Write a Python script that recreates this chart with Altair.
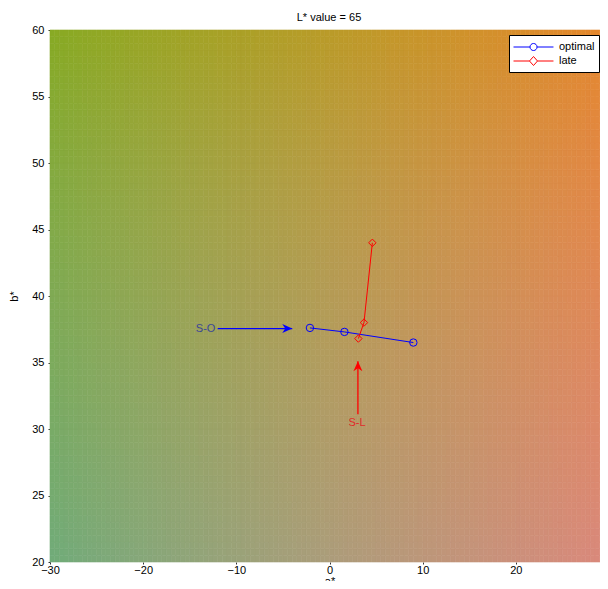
import numpy as np
import pandas as pd
import altair as alt

# ---------------- values ----------------
L_VALUE = 65
A_RANGE = [-30, 30]
B_RANGE = [20, 60]
GRID_STEP = 0.5

series_names = ["optimal", "late"]
series_colors = ["#0000ff", "#ff0000"]

optimal_a = [-2.1, 1.6, 9.0]
optimal_b = [37.6, 37.3, 36.5]
late_a = [3.1, 3.7, 4.6]
late_b = [36.8, 38.0, 44.0]

arrow_labels = ["S-O", "S-L"]
arrow_tail_a = [-12.0, 3.05]
arrow_tail_b = [37.55, 31.1]
arrow_tip_a = [-4.0, 3.05]
arrow_tip_b = [37.55, 35.1]
label_a = [-13.3, 2.95]
label_b = [37.55, 30.45]

x_ticks = [-30, -20, -10, 0, 10, 20, 30]
y_ticks = [20, 25, 30, 35, 40, 45, 50, 55, 60]

FONT = "Liberation Sans"


# ---------------- CIE L*a*b* (D65) -> sRGB for the background ----------------
def lab_to_hex(L, a, b):
    fy = (L + 16.0) / 116.0
    fx = fy + a / 500.0
    fz = fy - b / 200.0

    def finv(t):
        return np.where(t ** 3 > 0.008856, t ** 3, (t - 16.0 / 116.0) / 7.787)

    X = 0.95047 * finv(fx)
    Y = 1.00000 * finv(np.full_like(fx, fy))
    Z = 1.08883 * finv(fz)
    r = 3.2406 * X - 1.5372 * Y - 0.4986 * Z
    g = -0.9689 * X + 1.8758 * Y + 0.0415 * Z
    bl = 0.0557 * X - 0.2040 * Y + 1.0570 * Z
    out = []
    for c in (r, g, bl):
        c = np.clip(c, 0, 1)
        c = np.where(c <= 0.0031308, 12.92 * c, 1.055 * np.power(c, 1 / 2.4) - 0.055)
        out.append(np.round(np.clip(c, 0, 1) * 255).astype(int))
    return ["#%02x%02x%02x" % (R, G, B) for R, G, B in zip(*out)]


a_lo = np.arange(A_RANGE[0], A_RANGE[1], GRID_STEP)
b_lo = np.arange(B_RANGE[0], B_RANGE[1], GRID_STEP)
AA, BB = np.meshgrid(a_lo, b_lo)
AA = AA.ravel()
BB = BB.ravel()
bg = pd.DataFrame({
    "a0": AA, "a1": AA + GRID_STEP,
    "b0": BB, "b1": BB + GRID_STEP,
})
bg["hex"] = lab_to_hex(L_VALUE, AA + GRID_STEP / 2, BB + GRID_STEP / 2)

pts = pd.DataFrame({
    "series": ["optimal"] * len(optimal_a) + ["late"] * len(late_a),
    "a": optimal_a + late_a,
    "b": optimal_b + late_b,
    "idx": list(range(len(optimal_a))) + list(range(len(late_a))),
})

arrows = pd.DataFrame({
    "name": arrow_labels,
    "ta": arrow_tail_a, "tb": arrow_tail_b,
    "ha": arrow_tip_a, "hb": arrow_tip_b,
    "la": label_a, "lb": label_b,
})

# the axes box runs past the right edge of the window, as in the reference
VIEW_W, AXES_W, VIEW_H = 550, 559, 532
xscale = alt.Scale(domain=A_RANGE, nice=False, zero=False, range=[0, AXES_W])
yscale = alt.Scale(domain=B_RANGE, nice=False, zero=False)

xaxis = alt.Axis(values=x_ticks, title="a*", grid=False, domain=False,
                 tickSize=2, tickColor="#333333", labelPadding=0, labelFlush=False,
                 labelFontSize=11, labelFont=FONT, labelColor="black",
                 titleFont=FONT, titleFontSize=11, titleFontWeight="normal",
                 titleColor="black", titlePadding=0)
yaxis = alt.Axis(values=y_ticks, title="b*", grid=False, domain=False,
                 tickSize=2, tickColor="#333333", labelPadding=4, labelFlush=False,
                 labelFontSize=11, labelFont=FONT, labelColor="black",
                 titleFont=FONT, titleFontSize=11, titleFontWeight="normal",
                 titleColor="black", titlePadding=12)

background = alt.Chart(bg).mark_rect(strokeWidth=0.6).encode(
    x=alt.X("a0:Q", scale=xscale, axis=xaxis),
    x2="a1:Q",
    y=alt.Y("b0:Q", scale=yscale, axis=yaxis),
    y2="b1:Q",
    fill=alt.Fill("hex:N", scale=None),
    stroke=alt.Stroke("hex:N", scale=None),
)

series_scale = alt.Scale(domain=series_names, range=series_colors)

lines = alt.Chart(pts).mark_line(strokeWidth=1).encode(
    x="a:Q", y="b:Q",
    color=alt.Color("series:N", scale=series_scale, legend=None),
    order="idx:Q",
)

markers = alt.Chart(pts).mark_point(filled=False, size=55, strokeWidth=1, opacity=1).encode(
    x="a:Q", y="b:Q",
    color=alt.Color("series:N", scale=series_scale, legend=None),
    shape=alt.Shape("series:N", scale=alt.Scale(domain=series_names, range=["circle", "diamond"]),
                    legend=None),
)

# legend glyphs: a 40px line with the marker in its middle (unit = 7.5px)
circle_line = ("M-1,0L1.2,0M2.14,0L4.33,0"
               "M2.14,0A0.47,0.47,0,1,1,1.2,0A0.47,0.47,0,1,1,2.14,0")
diamond_line = "M-1,0L1.13,0M2.2,0L4.33,0M1.67,-0.6L2.2,0L1.67,0.6L1.13,0Z"

legend_layer = alt.Chart(pts).mark_point(filled=False, opacity=0).encode(
    x="a:Q", y="b:Q",
    color=alt.Color("series:N", scale=series_scale,
                    legend=alt.Legend(title=None, orient="none", legendX=459, legendY=5,
                                      fillColor="white", strokeColor="black",
                                      padding=4, rowPadding=0, symbolSize=225,
                                      symbolStrokeWidth=1, symbolOpacity=1,
                                      labelFont=FONT, labelFontSize=11,
                                      labelColor="black", labelOffset=30,
                                      cornerRadius=0)),
    shape=alt.Shape("series:N", scale=alt.Scale(domain=series_names,
                                                range=[circle_line, diamond_line])),
)

head_path = "M0,0L-2,-0.9L-1.4,0L-2,0.9Z"

so = arrows[arrows.name == "S-O"]
sl = arrows[arrows.name == "S-L"]

so_rule = alt.Chart(so).mark_rule(color="#0000ff", strokeWidth=1.3).encode(
    x="ta:Q", x2="ha:Q", y="tb:Q")
so_head = alt.Chart(so).mark_point(shape=head_path, filled=True, size=100,
                                   color="#0000ff", opacity=1, strokeWidth=0).encode(
    x="ha:Q", y="hb:Q")
so_text = alt.Chart(so).mark_text(font=FONT, fontSize=11, color="#3c4896",
                                  align="center", baseline="middle").encode(
    x="la:Q", y="lb:Q", text="name:N")

sl_rule = alt.Chart(sl).mark_rule(color="#ff0000", strokeWidth=1.3).encode(
    x="ta:Q", y="tb:Q", y2="hb:Q")
sl_head = alt.Chart(sl).mark_point(shape=head_path, filled=True, size=100, angle=270,
                                   color="#ff0000", opacity=1, strokeWidth=0).encode(
    x="ha:Q", y="hb:Q")
sl_text = alt.Chart(sl).mark_text(font=FONT, fontSize=11, color="#e02a2a",
                                  align="center", baseline="middle").encode(
    x="la:Q", y="lb:Q", text="name:N")

chart = alt.layer(
    background, lines, markers, legend_layer,
    so_rule, so_head, so_text, sl_rule, sl_head, sl_text,
).resolve_scale(
    color="independent", shape="independent", fill="independent", stroke="independent"
).properties(
    width=VIEW_W, height=VIEW_H,
    title=alt.TitleParams("L* value = 65", font=FONT, fontSize=11, fontWeight="normal",
                          color="black", anchor="middle", offset=8, dx=4, dy=7),
    autosize=alt.AutoSizeParams(type="none"),
    padding={"left": 42, "top": 22, "right": 0, "bottom": 19},
).configure_view(stroke=None)

chart.save("out.html", embed_options={"renderer": "svg", "actions": False})
